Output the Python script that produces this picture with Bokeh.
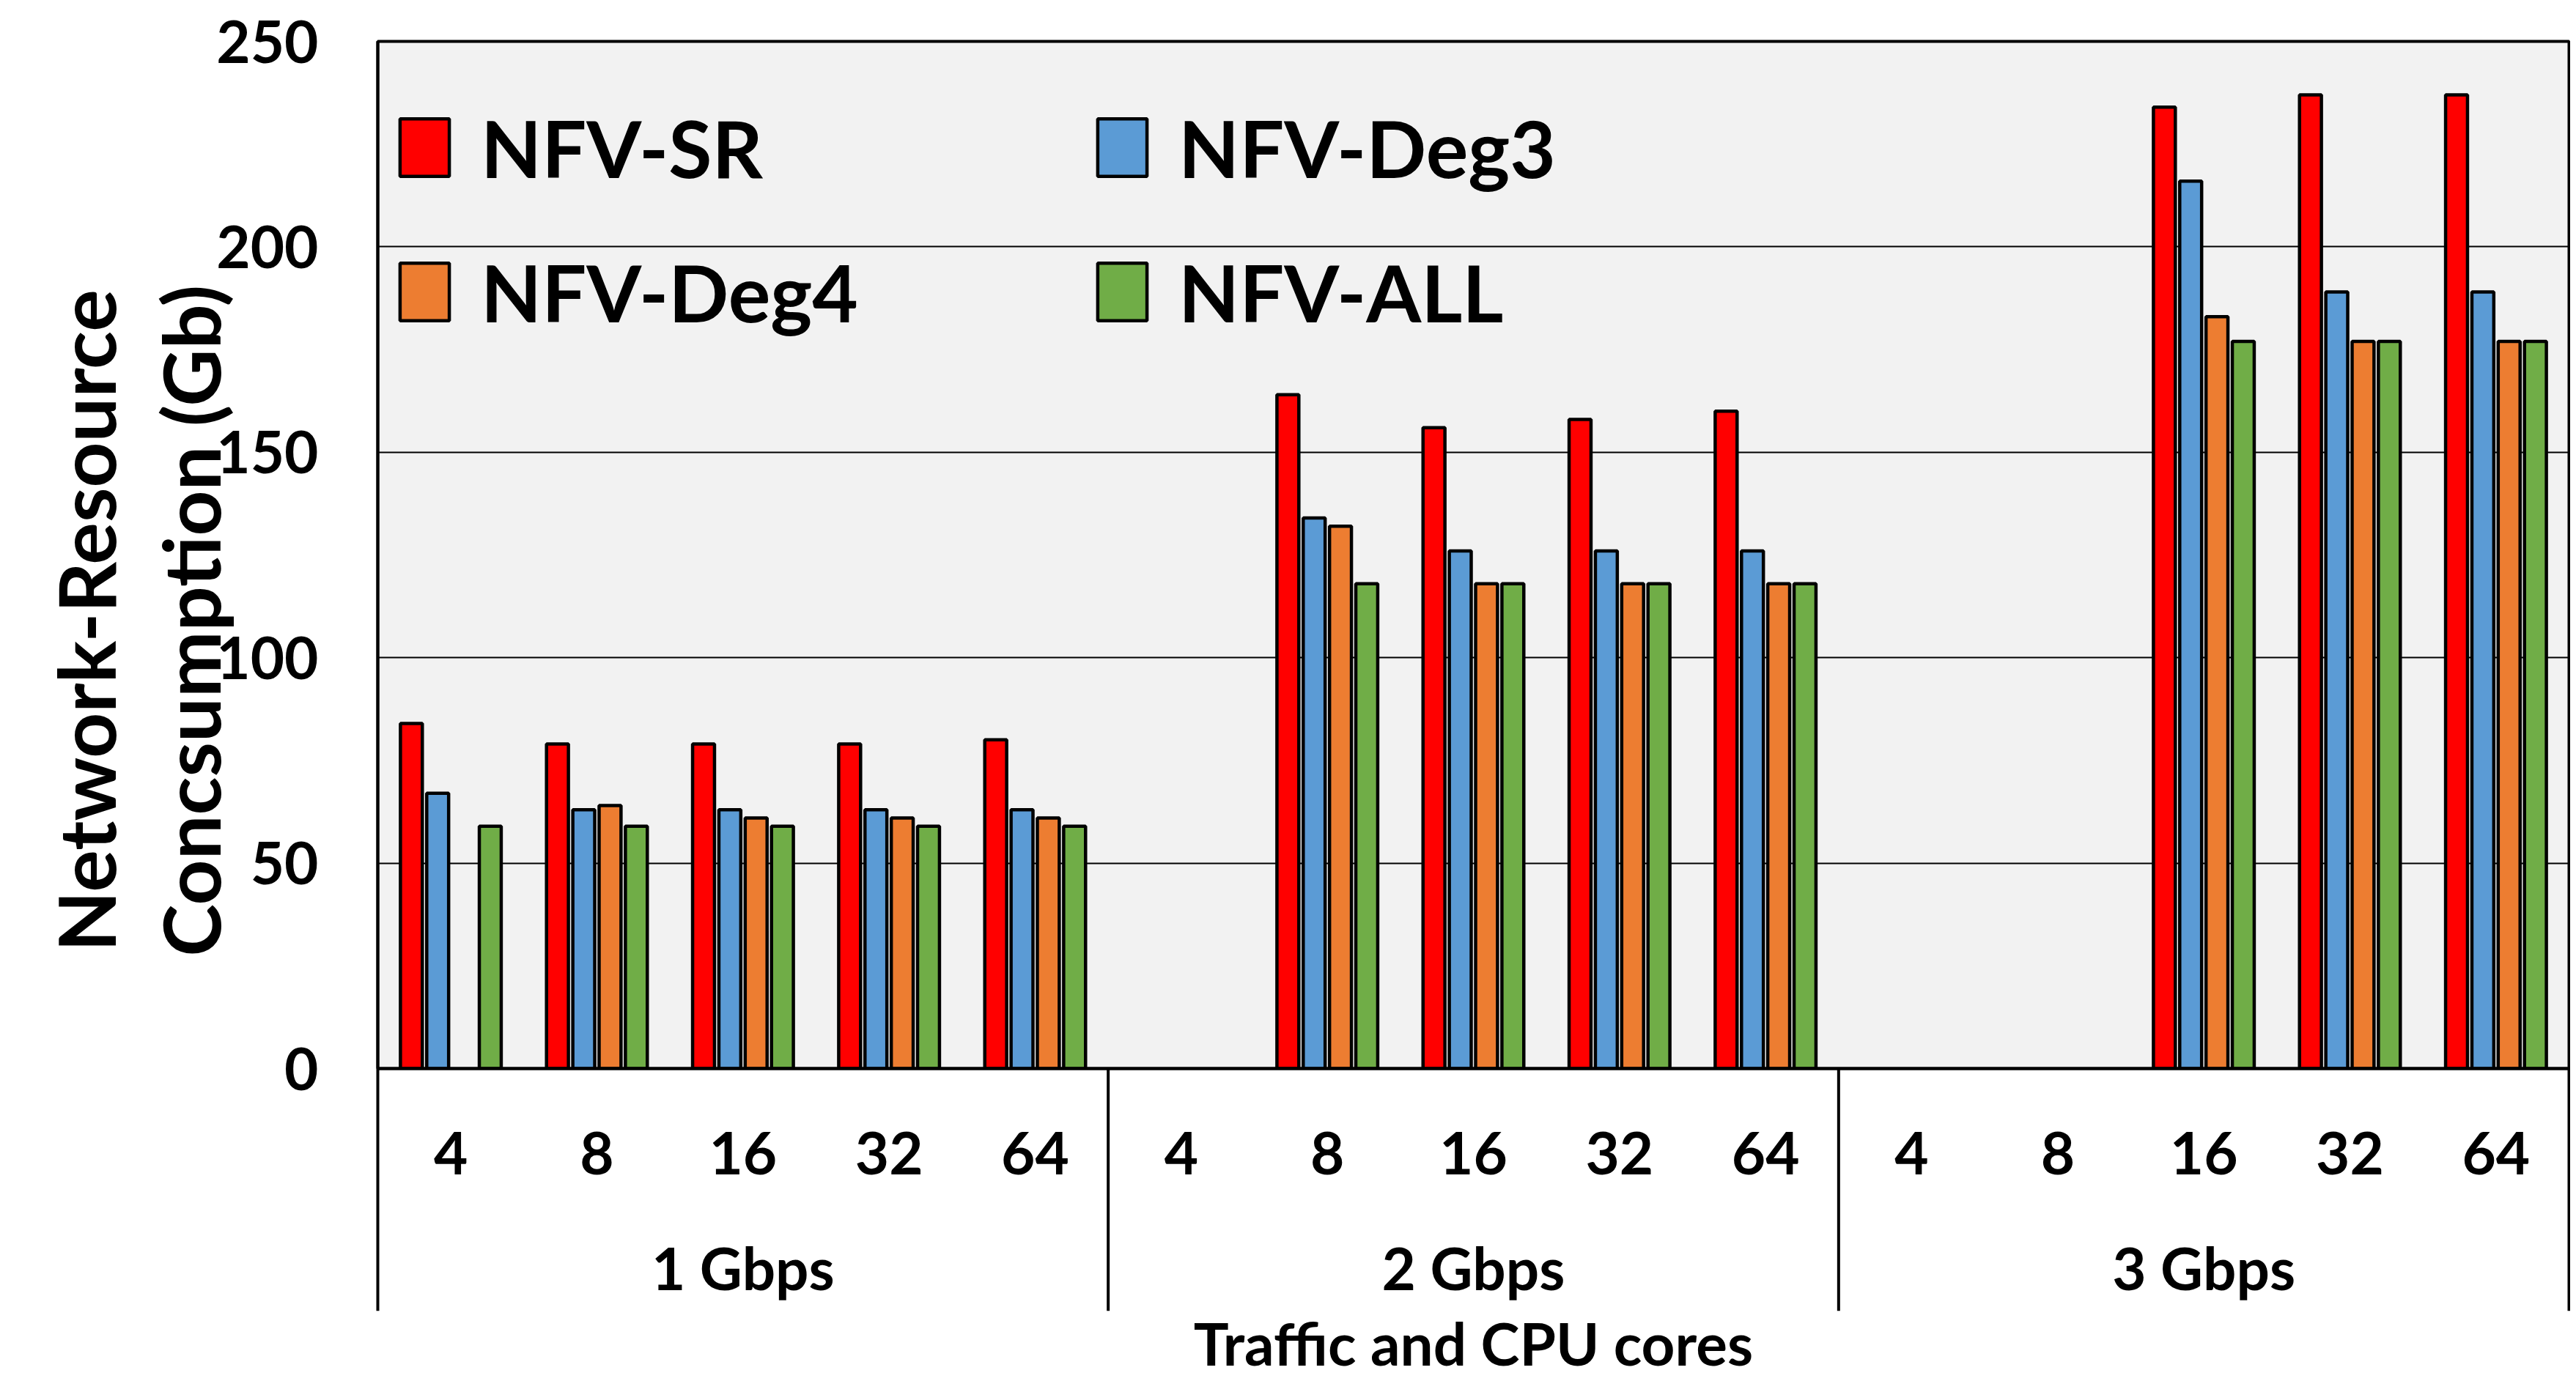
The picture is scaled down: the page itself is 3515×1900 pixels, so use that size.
import math
import numpy as np
from bokeh.plotting import figure
from bokeh.models import (FactorRange, Range1d, FixedTicker, CategoricalAxis,
                          ColumnDataSource, Legend, LegendItem)
from bokeh.core.properties import value
from bokeh.transform import dodge
from bokeh.embed import file_html
from bokeh.resources import INLINE

# ---------------- data ----------------
groups = ["1 Gbps", "2 Gbps", "3 Gbps"]
cores = ["4", "8", "16", "32", "64"]
nfv_sr   = [84, 79, 79, 79, 80,   None, 164, 156, 158, 160,   None, None, 234, 237, 237]
nfv_deg3 = [67, 63, 63, 63, 63,   None, 134, 126, 126, 126,   None, None, 216, 189, 189]
nfv_deg4 = [None, 64, 61, 61, 61, None, 132, 118, 118, 118,   None, None, 183, 177, 177]
nfv_all  = [59, 59, 59, 59, 59,   None, 118, 118, 118, 118,   None, None, 177, 177, 177]
series_names = ["NFV-SR", "NFV-Deg3", "NFV-Deg4", "NFV-ALL"]
series_colors = ["#FF0000", "#5B9BD5", "#ED7D31", "#70AD47"]
y_ticks = [0, 50, 100, 150, 200, 250]
x_title = "Traffic and CPU cores"
y_title = "Network-Resource\nConcsumption (Gb)"

FONT = "Lato"

factors = [(g, c) for g in groups for c in cores]
source = ColumnDataSource(dict(
    x=factors,
    sr=np.array(nfv_sr, dtype=float),
    deg3=np.array(nfv_deg3, dtype=float),
    deg4=np.array(nfv_deg4, dtype=float),
    all=np.array(nfv_all, dtype=float),
))
cols = ["sr", "deg3", "deg4", "all"]

p = figure(width=3507, height=1892,
           x_range=FactorRange(*factors, factor_padding=0, group_padding=0,
                               subgroup_padding=0, range_padding=0),
           y_range=Range1d(0, 250),
           min_border_left=515, min_border_right=2, min_border_top=56,
           min_border_bottom=434,
           output_backend="svg", toolbar_location=None)

p.background_fill_color = "#F2F2F2"
p.border_fill_color = "white"
p.outline_line_color = "black"
p.outline_line_width = 4

# grid
p.xgrid.grid_line_color = None
p.ygrid.ticker = FixedTicker(ticks=y_ticks)
p.ygrid.grid_line_color = "black"
p.ygrid.grid_line_width = 2

# bars
offsets = [-0.27, -0.09, 0.09, 0.27]
renderers = []
for col, color, off in zip(cols, series_colors, offsets):
    r = p.vbar(x=dodge("x", off, range=p.x_range), top=col, bottom=0, width=0.15,
               source=source, fill_color=color, line_color="black", line_width=4.5)
    renderers.append(r)

# y axis
ya = p.yaxis[0]
ya.ticker = FixedTicker(ticks=y_ticks)
ya.major_tick_out = 0
ya.major_tick_in = 0
ya.minor_tick_line_color = None
ya.axis_line_color = "black"
ya.axis_line_width = 4
ya.major_label_standoff = 81
ya.major_label_text_font = FONT
ya.major_label_text_font_style = "bold"
ya.major_label_text_font_size = "80px"
ya.major_label_text_color = "black"

# x axis (level 1: cores)
xa = p.xaxis[0]
xa.major_tick_line_color = None
xa.minor_tick_line_color = None
xa.axis_line_color = "black"
xa.axis_line_width = 4
xa.separator_line_color = None
xa.major_label_standoff = 80
xa.major_label_text_font = FONT
xa.major_label_text_font_style = "bold"
xa.major_label_text_font_size = "80px"
xa.major_label_text_color = "black"
xa.group_text_font_size = "1px"
xa.group_text_color = None

# x axis (level 2: traffic groups + title)
xb = CategoricalAxis()
xb.major_tick_line_color = None
xb.minor_tick_line_color = None
xb.axis_line_color = None
xb.separator_line_color = None
xb.major_label_standoff = 70
xb.major_label_text_font_size = "1px"
xb.major_label_text_color = None
xb.group_text_font = FONT
xb.group_text_font_style = "bold"
xb.group_text_font_size = "80px"
xb.group_text_color = "black"
xb.axis_label = x_title
xb.axis_label_text_font = FONT
xb.axis_label_text_font_style = "bold"
xb.axis_label_text_font_size = "80px"
xb.axis_label_text_color = "black"
xb.axis_label_standoff = 4
p.add_layout(xb, "below")

# group separators / table lines below the axis
sep = ColumnDataSource(dict(
    x=[(groups[0], cores[0], -0.5), (groups[0], cores[-1], 0.5),
       (groups[1], cores[-1], 0.5), (groups[2], cores[-1], 0.5)],
    y0=[0, 0, 0, 0],
    y1=[-59, -59, -59, -59],
))
p.segment(x0="x", y0="y0", x1="x", y1="y1", source=sep,
          line_color="black", line_width=4, level="overlay")

# y title (drawn at overlay level so it can sit left of the frame)
ytitle_src = ColumnDataSource(dict(x=[(groups[0], cores[0], -2.145)], y=[109],
                                   t=[y_title]))
p.text(x="x", y="y", text="t", source=ytitle_src, angle=math.pi / 2,
       text_align="center", text_baseline="middle",
       text_font=value(FONT), text_font_style="bold", text_font_size="108px",
       text_color="black", text_line_height=1.1, level="overlay")

# legend
items = [LegendItem(label=n, renderers=[r]) for n, r in zip(series_names, renderers)]
legend = Legend(items=items, orientation="horizontal", ncols=2,
                location=(22, 995), padding=0, margin=0, spacing=67,
                glyph_width=84, glyph_height=98, label_standoff=35,
                label_width=766,
                label_text_font=FONT, label_text_font_style="bold",
                label_text_font_size="108px", label_text_color="black",
                background_fill_alpha=0, border_line_color=None)
p.add_layout(legend)

open("out.html", "w").write(file_html(p, INLINE))
